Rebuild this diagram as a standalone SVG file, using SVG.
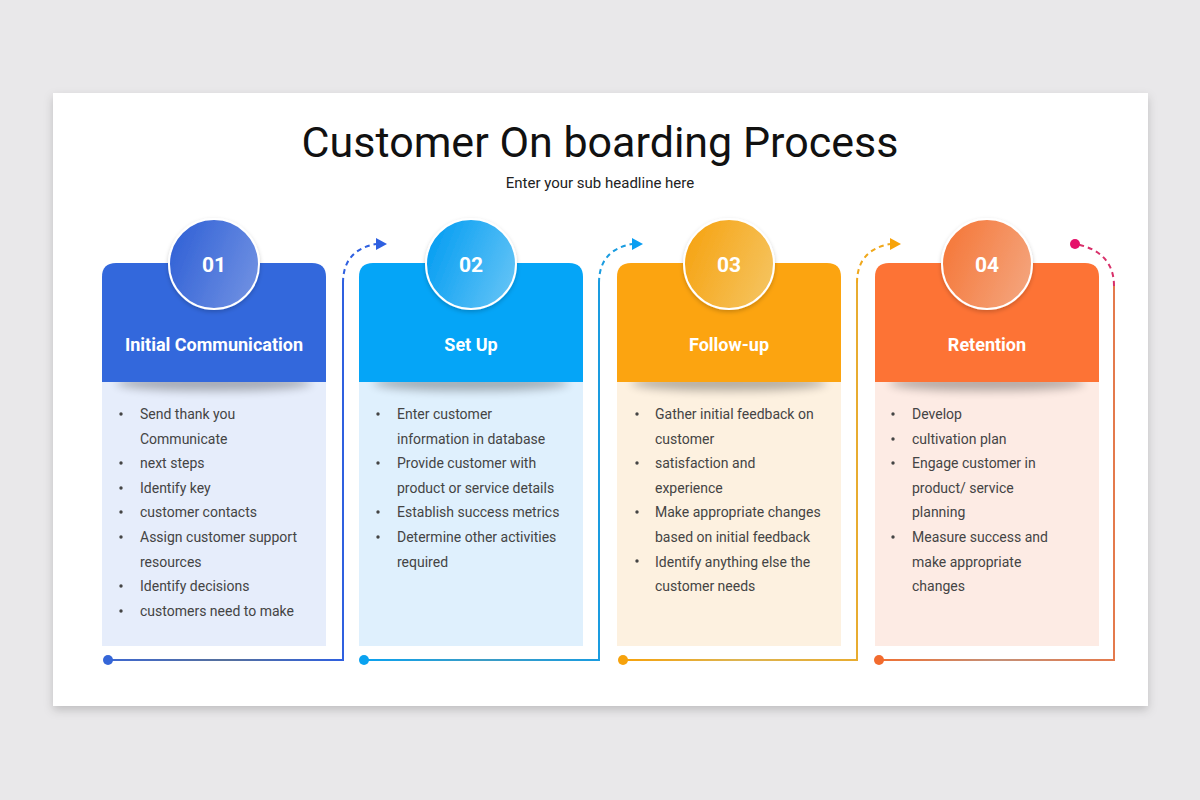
<svg xmlns="http://www.w3.org/2000/svg" width="1200" height="800" viewBox="0 0 1200 800">
<defs>
<filter id="panelShadow" x="-5%" y="-5%" width="110%" height="115%">
<feDropShadow dx="0" dy="4" stdDeviation="5" flood-color="#000" flood-opacity="0.18"/>
</filter>
<filter id="blur6" x="-30%" y="-200%" width="160%" height="500%">
<feGaussianBlur stdDeviation="5"/>
</filter>
<filter id="circShadow" x="-30%" y="-30%" width="160%" height="160%">
<feDropShadow dx="0" dy="2" stdDeviation="2" flood-color="#000" flood-opacity="0.2"/>
</filter>
<linearGradient id="c1" x1="0" y1="0.3" x2="1" y2="0.7"><stop offset="0" stop-color="#3262d6"/><stop offset="1" stop-color="#6f90e2"/></linearGradient>
<linearGradient id="c2" x1="0" y1="0.3" x2="1" y2="0.7"><stop offset="0" stop-color="#069ef2"/><stop offset="1" stop-color="#62c3f6"/></linearGradient>
<linearGradient id="c3" x1="0" y1="0.3" x2="1" y2="0.7"><stop offset="0" stop-color="#f6a414"/><stop offset="1" stop-color="#f5c35e"/></linearGradient>
<linearGradient id="c4" x1="0" y1="0.3" x2="1" y2="0.7"><stop offset="0" stop-color="#f5783a"/><stop offset="1" stop-color="#f4a47c"/></linearGradient>
<linearGradient id="l1" gradientUnits="userSpaceOnUse" x1="108" y1="0" x2="343" y2="0"><stop offset="0" stop-color="#3e68d0"/><stop offset="0.5" stop-color="#56709c"/><stop offset="1" stop-color="#2f60e0"/></linearGradient>
<linearGradient id="l2" gradientUnits="userSpaceOnUse" x1="364" y1="0" x2="599" y2="0"><stop offset="0" stop-color="#0aa2f0"/><stop offset="0.5" stop-color="#3c9cc4"/><stop offset="1" stop-color="#1a9ce0"/></linearGradient>
<linearGradient id="l3" gradientUnits="userSpaceOnUse" x1="623" y1="0" x2="857" y2="0"><stop offset="0" stop-color="#f6a20c"/><stop offset="0.5" stop-color="#dcb452"/><stop offset="1" stop-color="#e8ac30"/></linearGradient>
<linearGradient id="l4" gradientUnits="userSpaceOnUse" x1="879" y1="0" x2="1114" y2="0"><stop offset="0" stop-color="#f07032"/><stop offset="0.5" stop-color="#c49078"/><stop offset="1" stop-color="#e47a4c"/></linearGradient>
</defs>
<style>
.num{font-family:Roboto,"Liberation Sans",sans-serif;font-weight:700;font-size:21px;fill:#fff;text-anchor:middle}
.ttl{font-family:Roboto,"Liberation Sans",sans-serif;font-weight:700;font-size:18px;fill:#fff;text-anchor:middle}
.txt{font-family:Roboto,"Liberation Sans",sans-serif;font-size:14px;fill:#444}
.ring{stroke:#fff;stroke-width:2}
.bul{fill:#444}
.solid{fill:none;stroke-width:2}
.dash{fill:none;stroke-width:2;stroke-dasharray:5 4}
.shadow{fill:#000;opacity:0.28}
</style>
<rect x="0" y="0" width="1200" height="800" fill="#e9e8ea"/>
<rect x="53" y="93" width="1095" height="613" fill="#fff" filter="url(#panelShadow)"/>
<text x="600" y="157" font-family="Roboto,'Liberation Sans',sans-serif" font-size="43" fill="#111" text-anchor="middle">Customer On boarding Process</text>
<text x="600" y="188" font-family="Roboto,'Liberation Sans',sans-serif" font-size="15" fill="#222" text-anchor="middle">Enter your sub headline here</text>

<g id="connectors">
<path class="solid" stroke="url(#l1)" d="M108,660 H343 V283"/>
<path class="dash" stroke="#2f60e0" d="M343,283 Q343,250 376,244"/>
<polygon fill="#2f60e0" points="376,238 387,244 376,250"/>
<circle cx="108" cy="660" r="5" fill="#3566d8"/>

<path class="solid" stroke="url(#l2)" d="M364,660 H599 V283"/>
<path class="dash" stroke="#1a9ce0" d="M599,283 Q599,250 632,244"/>
<polygon fill="#0a9ef2" points="632,238 643,244 632,250"/>
<circle cx="364" cy="660" r="5" fill="#0aa2f0"/>

<path class="solid" stroke="url(#l3)" d="M623,660 H857 V283"/>
<path class="dash" stroke="#f0a81c" d="M857,283 Q857,250 890,244"/>
<polygon fill="#f7a30a" points="890,238 901,244 890,250"/>
<circle cx="623" cy="660" r="5" fill="#f6a20c"/>

<path class="solid" stroke="url(#l4)" d="M879,660 H1114 V286"/>
<path class="dash" stroke="#d8306a" d="M1114,286 Q1114,252 1076,244"/>
<circle cx="1075" cy="244" r="5" fill="#e5126a"/>
<circle cx="879" cy="660" r="5" fill="#f26b2e"/>
</g>

<g id="card1">
<rect x="102" y="382" width="224" height="264" fill="#e6edfb"/>
<ellipse class="shadow" cx="214" cy="383" rx="98" ry="8" filter="url(#blur6)"/>
<path d="M102,382 V277 Q102,263 116,263 H312 Q326,263 326,277 V382 Z" fill="#3368dc"/>
<circle class="ring" cx="214" cy="264" r="45" fill="url(#c1)" filter="url(#circShadow)"/>
<text class="num" x="214" y="272">01</text>
<text class="ttl" x="214" y="351">Initial Communication</text>
<g class="bul"><circle cx="121" cy="414" r="1.7"/><circle cx="121" cy="463" r="1.7"/><circle cx="121" cy="488" r="1.7"/><circle cx="121" cy="512" r="1.7"/><circle cx="121" cy="537" r="1.7"/><circle cx="121" cy="586" r="1.7"/><circle cx="121" cy="611" r="1.7"/></g>
<text class="txt" x="140" y="419">Send thank you</text>
<text class="txt" x="140" y="444">Communicate</text>
<text class="txt" x="140" y="468">next steps</text>
<text class="txt" x="140" y="493">Identify key</text>
<text class="txt" x="140" y="517">customer contacts</text>
<text class="txt" x="140" y="542">Assign customer support</text>
<text class="txt" x="140" y="567">resources</text>
<text class="txt" x="140" y="591">Identify decisions</text>
<text class="txt" x="140" y="616">customers need to make</text>
</g>

<g id="card2">
<rect x="359" y="382" width="224" height="264" fill="#dff0fd"/>
<ellipse class="shadow" cx="471" cy="383" rx="98" ry="8" filter="url(#blur6)"/>
<path d="M359,382 V277 Q359,263 373,263 H569 Q583,263 583,277 V382 Z" fill="#05a5f7"/>
<circle class="ring" cx="471" cy="264" r="45" fill="url(#c2)" filter="url(#circShadow)"/>
<text class="num" x="471" y="272">02</text>
<text class="ttl" x="471" y="351">Set Up</text>
<g class="bul"><circle cx="378" cy="414" r="1.7"/><circle cx="378" cy="463" r="1.7"/><circle cx="378" cy="512" r="1.7"/><circle cx="378" cy="537" r="1.7"/></g>
<text class="txt" x="397" y="419">Enter customer</text>
<text class="txt" x="397" y="444">information in database</text>
<text class="txt" x="397" y="468">Provide customer with</text>
<text class="txt" x="397" y="493">product or service details</text>
<text class="txt" x="397" y="517">Establish success metrics</text>
<text class="txt" x="397" y="542">Determine other activities</text>
<text class="txt" x="397" y="567">required</text>
</g>

<g id="card3">
<rect x="617" y="382" width="224" height="264" fill="#fdf1e0"/>
<ellipse class="shadow" cx="729" cy="383" rx="98" ry="8" filter="url(#blur6)"/>
<path d="M617,382 V277 Q617,263 631,263 H827 Q841,263 841,277 V382 Z" fill="#fca410"/>
<circle class="ring" cx="729" cy="264" r="45" fill="url(#c3)" filter="url(#circShadow)"/>
<text class="num" x="729" y="272">03</text>
<text class="ttl" x="729" y="351">Follow-up</text>
<g class="bul"><circle cx="637" cy="414" r="1.7"/><circle cx="637" cy="463" r="1.7"/><circle cx="637" cy="512" r="1.7"/><circle cx="637" cy="561" r="1.7"/></g>
<text class="txt" x="655" y="419">Gather initial feedback on</text>
<text class="txt" x="655" y="444">customer</text>
<text class="txt" x="655" y="468">satisfaction and</text>
<text class="txt" x="655" y="493">experience</text>
<text class="txt" x="655" y="517">Make appropriate changes</text>
<text class="txt" x="655" y="542">based on initial feedback</text>
<text class="txt" x="655" y="567">Identify anything else the</text>
<text class="txt" x="655" y="591">customer needs</text>
</g>

<g id="card4">
<rect x="875" y="382" width="224" height="264" fill="#fdebe4"/>
<ellipse class="shadow" cx="987" cy="383" rx="98" ry="8" filter="url(#blur6)"/>
<path d="M875,382 V277 Q875,263 889,263 H1085 Q1099,263 1099,277 V382 Z" fill="#fd7335"/>
<circle class="ring" cx="987" cy="264" r="45" fill="url(#c4)" filter="url(#circShadow)"/>
<text class="num" x="987" y="272">04</text>
<text class="ttl" x="987" y="351">Retention</text>
<g class="bul"><circle cx="893" cy="414" r="1.7"/><circle cx="893" cy="439" r="1.7"/><circle cx="893" cy="463" r="1.7"/><circle cx="893" cy="537" r="1.7"/></g>
<text class="txt" x="912" y="419">Develop</text>
<text class="txt" x="912" y="444">cultivation plan</text>
<text class="txt" x="912" y="468">Engage customer in</text>
<text class="txt" x="912" y="493">product/ service</text>
<text class="txt" x="912" y="517">planning</text>
<text class="txt" x="912" y="542">Measure success and</text>
<text class="txt" x="912" y="567">make appropriate</text>
<text class="txt" x="912" y="591">changes</text>
</g>
</svg>
